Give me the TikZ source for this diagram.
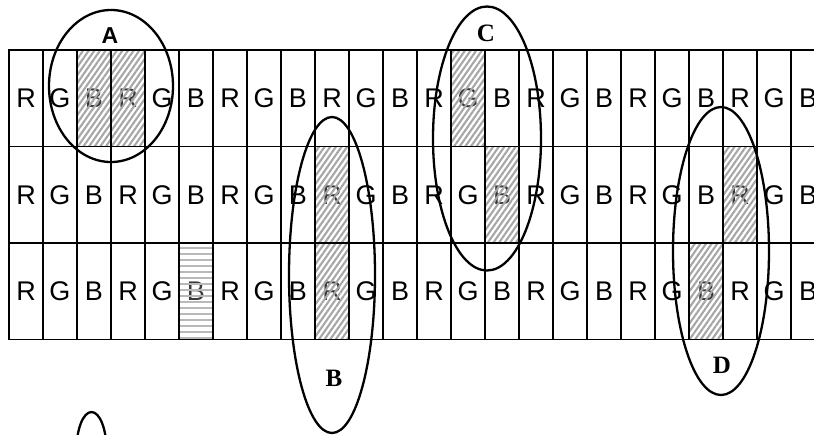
\documentclass[tikz,border=0pt]{standalone}
\usepackage{fontspec}
\setmainfont{Liberation Sans}
\newfontfamily\serifbold{Liberation Serif}
\usetikzlibrary{patterns.meta}
\tikzset{
  cellbox/.style={draw=black, line width=1.2pt, minimum width=34pt, minimum height=96.5pt,
    inner sep=0pt, outer sep=0pt, font=\fontsize{27}{29}\selectfont},
  hatched/.style={pattern={Lines[angle=55,distance=4.6pt,line width=2.1pt]}, pattern color=gray!70},
  striped/.style={pattern={Lines[angle=0,distance=6pt,line width=2.8pt]}, pattern color=gray!55},
  ring/.style={draw=black, line width=2.3pt},
  labA/.style={font=\bfseries\fontsize{23}{25}\selectfont},
  labS/.style={font=\serifbold\bfseries\fontsize{25}{27}\selectfont}
}
\begin{document}
\begin{tikzpicture}[x=1pt,y=-1pt]
\useasboundingbox (0,0) rectangle (814,434);
\clip (0,0) rectangle (814,434);
\fill[white] (0,0) rectangle (814,434);
% mark the shaded cells
\foreach \r/\k in {1/2,1/3,1/13,2/9,2/14,2/21,3/9,3/20,3/5}{
  \expandafter\gdef\csname hl-\r-\k\endcsname{}
}
% grid of cells
\foreach \r/\yc in {1/98.25,2/194.75,3/291.25}{
  \foreach \k in {0,...,23}{
    \pgfmathtruncatemacro{\m}{mod(\k,3)}
    \ifcase\m \def\lt{R}\or \def\lt{G}\or \def\lt{B}\fi
    \ifcsname hl-\r-\k\endcsname \def\tc{gray!45!black}\else \def\tc{black}\fi
    \node[cellbox, text=\tc] (c-\r-\k) at ({26+34*\k},\yc) {\lt};
  }
}
% hatched cells
\foreach \r/\k in {1/2,1/3,1/13,2/9,2/14,2/21,3/9,3/20}{
  \fill[hatched] (c-\r-\k.south west) rectangle (c-\r-\k.north east);
  \draw[line width=1.2pt] (c-\r-\k.south west) rectangle (c-\r-\k.north east);
}
% horizontally striped cell
\fill[striped] (c-3-5.south west) rectangle (c-3-5.north east);
\draw[line width=1.2pt] (c-3-5.south west) rectangle (c-3-5.north east);
% ellipses
\draw[ring] (111,86) ellipse [x radius=62, y radius=76];
\draw[ring] (332,275) ellipse [x radius=43, y radius=158];
\draw[ring] (487,138.5) ellipse [x radius=54, y radius=132];
\draw[ring] (721,251) ellipse [x radius=48, y radius=144];
\draw[ring] (91.5,450) ellipse [x radius=15, y radius=38];
% labels
\node[labA] (la) at (110,36) {A};
\node[labS] (lb) at (334,378) {B};
\node[labS] (lc) at (486,33) {C};
\node[labS] (ld) at (722,365) {D};
\end{tikzpicture}
\end{document}
